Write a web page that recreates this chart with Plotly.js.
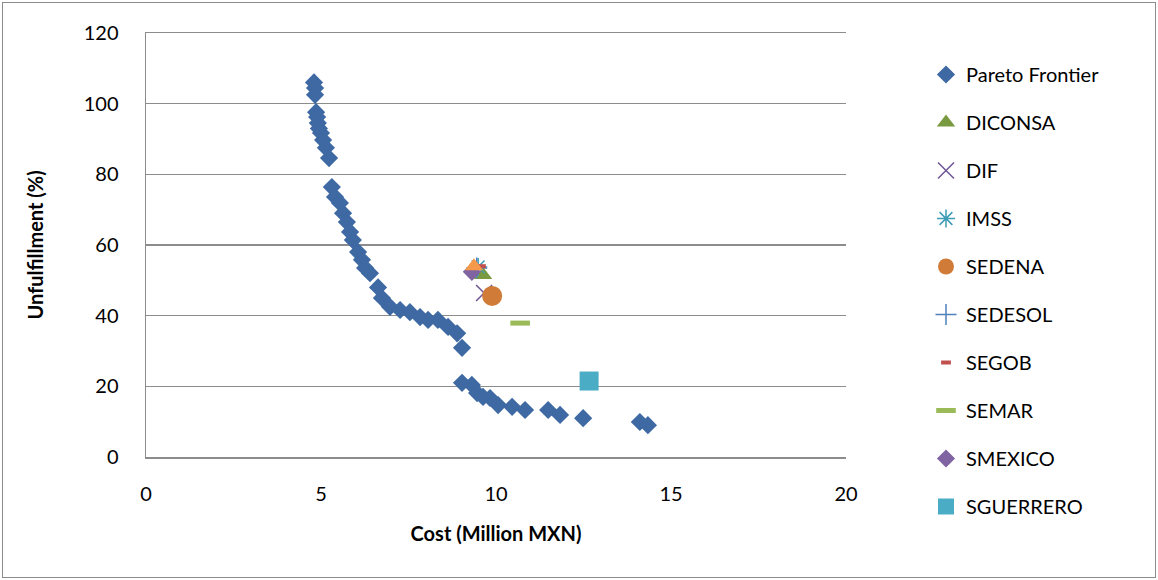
<!DOCTYPE html>
<html>
<head>
<meta charset="utf-8">
<script src="https://cdn.plot.ly/plotly-3.0.1.min.js"></script>
<style>
  html, body { margin: 0; padding: 0; background: #fff; }
  #wrap { position: relative; width: 1158px; height: 580px; }
  #chart { width: 1158px; height: 580px; }
  #frame { position: absolute; left: 2px; top: 2px; width: 1152px; height: 574px;
           border: 1px solid #8c8c8c; pointer-events: none; }
</style>
</head>
<body>
<div id="wrap">
  <div id="chart"></div>
  <div id="frame"></div>
</div>
<script>
// Pareto frontier: cost (million MXN) vs unfulfilled demand (%)
const paretoCost = [
  4.80, 4.83, 4.83, 4.86, 4.89, 4.91, 4.94, 5.00, 5.06, 5.14, 5.23,
  5.31, 5.40, 5.54, 5.63, 5.74, 5.83, 5.91, 6.06, 6.17, 6.26, 6.40,
  6.63, 6.74, 6.97, 7.26, 7.54, 7.83, 8.06, 8.34, 8.63, 8.89, 9.03,
  9.03, 9.31, 9.46, 9.63, 9.83, 10.06, 10.46, 10.83, 11.49, 11.83,
  12.49, 14.11, 14.34
];
const paretoUnfulfill = [
  106.0, 104.4, 102.5, 97.6, 96.2, 94.5, 93.0, 91.7, 89.7, 87.5, 84.6,
  76.4, 73.6, 71.9, 69.0, 66.5, 63.7, 61.4, 58.0, 55.8, 53.5, 52.0,
  48.0, 45.0, 42.5, 41.6, 41.0, 39.6, 38.8, 38.8, 36.8, 35.0, 30.9,
  21.0, 20.4, 18.1, 17.0, 16.7, 14.7, 14.2, 13.3, 13.3, 11.9,
  11.0, 9.9, 9.0
];

// Single-agency solutions
const agencies     = ["DICONSA", "DIF", "IMSS", "SEDENA", "SEDESOL", "SEGOB", "SEMAR", "SMEXICO", "SGUERRERO"];
const agencyCost   = [9.63, 9.66, 9.49, 9.89, 9.45, 9.57, 10.69, 9.31, 12.66];
const agencyUnfulf = [51.5, 46.4, 53.8, 45.6, 53.5, 54.0, 37.9, 52.4, 21.5];

// Extra solution drawn on top, without a legend entry
const extraCost   = [9.37];
const extraUnfulf = [54.0];

const styles = {
  "DICONSA":   { symbol: "triangle-up",      size: 16, color: "#7A9A42" },
  "DIF":       { symbol: "x-thin-open",      size: 16, color: "#6E5592", lw: 1.5 },
  "IMSS":      { symbol: "asterisk-open",    size: 15, color: "#3C9DB4", lw: 1.5 },
  "SEDENA":    { symbol: "circle",           size: 20, color: "#D07B38" },
  "SEDESOL":   { symbol: "cross-thin-open",  size: 15, color: "#4F81BD", lw: 1.5 },
  "SEGOB":     { symbol: "line-ew-open",     size: 7,  color: "#C0504D", lw: 4 },
  "SEMAR":     { symbol: "line-ew-open",     size: 14, color: "#9BBB59", lw: 5 },
  "SMEXICO":   { symbol: "diamond",          size: 14, color: "#8064A2" },
  "SGUERRERO": { symbol: "square",           size: 19, color: "#4BACC6" }
};

const traces = [{
  type: "scatter", mode: "markers", name: "Pareto Frontier",
  x: paretoCost, y: paretoUnfulfill, legendgroup: "g0",
  marker: { symbol: "diamond", size: 14, color: "#3E69A3", line: { width: 0 } }
}];

agencies.forEach((name, i) => {
  const s = styles[name];
  const m = { symbol: s.symbol, size: s.size, color: s.color };
  m.line = s.lw ? { width: s.lw, color: s.color } : { width: 0 };
  traces.push({
    type: "scatter", mode: "markers", name: name,
    x: [agencyCost[i]], y: [agencyUnfulf[i]], legendgroup: "g" + (i + 1),
    marker: m
  });
});

traces.push({
  type: "scatter", mode: "markers", name: "Other", showlegend: false,
  x: extraCost, y: extraUnfulf,
  marker: { symbol: "triangle-up", size: 16, color: "#F59A4A", line: { width: 0 } }
});

const font = "Lato, 'Open Sans', sans-serif";
const W = 1158, H = 580;

const layout = {
  width: W, height: H,
  margin: { l: 0, r: 0, t: 0, b: 0 },
  paper_bgcolor: "#ffffff", plot_bgcolor: "#ffffff",
  font: { family: font, size: 20, color: "#000" },
  showlegend: true,
  legend: {
    x: 926 / W, xanchor: "left", y: 1 - 55 / H, yanchor: "top",
    font: { family: font, size: 20, color: "#000" },
    tracegroupgap: 19, itemsizing: "trace", bgcolor: "rgba(0,0,0,0)"
  },
  xaxis: {
    domain: [146 / W, 846 / W], anchor: "y",
    range: [0, 20], tickvals: [0, 5, 10, 15, 20],
    showgrid: false, zeroline: false,
    showline: true, linecolor: "#8c8c8c", linewidth: 1.5, mirror: true,
    ticks: "", ticklabelstandoff: 18,
    tickfont: { family: font, size: 20, color: "#000" },
    title: { text: "Cost (Million MXN)", font: { family: font, size: 20, color: "#000", weight: "bold" }, standoff: 23 }
  },
  yaxis: {
    domain: [123 / H, 1 - 33 / H], anchor: "x",
    range: [0, 120], tickvals: [0, 20, 40, 60, 80, 100, 120],
    showgrid: true, gridcolor: "#8c8c8c", gridwidth: 1.5, zeroline: false,
    showline: true, linecolor: "#8c8c8c", linewidth: 1.5,
    ticks: "", ticklabelstandoff: 22,
    tickfont: { family: font, size: 20, color: "#000" },
    title: { text: "Unfulfillment (%)", font: { family: font, size: 20, color: "#000", weight: "bold" }, standoff: 34 }
  }
};

Plotly.newPlot("chart", traces, layout, { displayModeBar: false, staticPlot: true });
</script>
</body>
</html>
